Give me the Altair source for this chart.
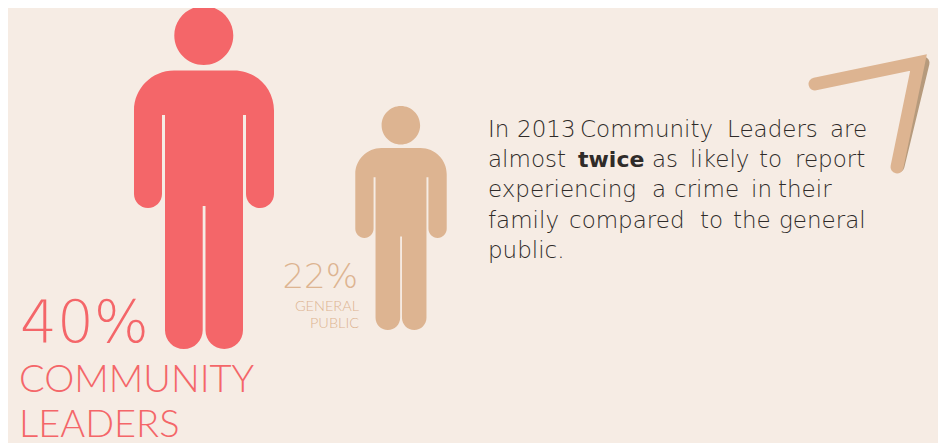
import altair as alt
import pandas as pd

groups = ["Community Leaders", "General Public"]
shares = [40, 22]
share_labels = ["40%", "22%"]
line1 = ["In", "2013", "Community", "Leaders", "are"]
line2a = ["almost"]
line2b = ["twice"]
line2c = ["as", "likely", "to", "report"]
line3 = ["experiencing", "a", "crime", "in", "their"]
line4 = ["family", "compared", "to", "the", "general"]
line5 = ["public."]

BG, RED, TAN, SHADOW, INK = "#F6ECE4", "#F46669", "#DDB491", "#B69A7C", "#2F2B29"
OX, OY = 8, 8
W, H = 930, 435
FONT = "Lato"
BODY = "DejaVu Sans"

CX, CY, U = 204.0, 177.5, 171.5
K = 0.5523
def p(x, y):
    return f"{(x - CX) / U:.4f},{(y - CY) / U:.4f}"
def circle(cx, cy, r):
    c = r * K
    return (f"M{p(cx + r, cy)}C{p(cx + r, cy + c)} {p(cx + c, cy + r)} {p(cx, cy + r)}"
            f"C{p(cx - c, cy + r)} {p(cx - r, cy + c)} {p(cx - r, cy)}"
            f"C{p(cx - r, cy - c)} {p(cx - c, cy - r)} {p(cx, cy - r)}"
            f"C{p(cx + c, cy - r)} {p(cx + r, cy - c)} {p(cx + r, cy)}Z")
def corner(x0, y0, x1, y1, horizontal_first):
    if horizontal_first:
        return f"C{p(x0 + (x1 - x0) * K, y0)} {p(x1, y1 - (y1 - y0) * K)} {p(x1, y1)}"
    return f"C{p(x0, y0 + (y1 - y0) * K)} {p(x1 - (x1 - x0) * K, y1)} {p(x1, y1)}"

L, R, TOP = 134.0, 274.0, 70.5
arm_in_l, arm_in_r = 162.0, 246.0
torso_l, torso_r = 165.0, 243.0
gap_l, gap_r = 202.7, 205.5
arm_top, arm_bot, leg_top, leg_bot = 115.0, 208.0, 206.0, 349.0
sh, ar = 40.0, 14.0
lr = (gap_l - torso_l) / 2
rr = (torso_r - gap_r) / 2
person = circle(203.8, 35.5, 29.5) + (
    f"M{p(L + sh, TOP)}L{p(R - sh, TOP)}"
    + corner(R - sh, TOP, R, TOP + sh, True)
    + f"L{p(R, arm_bot - ar)}"
    + corner(R, arm_bot - ar, R - ar, arm_bot, False)
    + corner(R - ar, arm_bot, arm_in_r, arm_bot - ar, True)
    + f"L{p(arm_in_r, arm_top)}L{p(torso_r, arm_top)}L{p(torso_r, leg_bot - rr)}"
    + corner(torso_r, leg_bot - rr, torso_r - rr, leg_bot, False)
    + corner(torso_r - rr, leg_bot, gap_r, leg_bot - rr, True)
    + f"L{p(gap_r, leg_top)}L{p(gap_l, leg_top)}L{p(gap_l, leg_bot - lr)}"
    + corner(gap_l, leg_bot - lr, gap_l - lr, leg_bot, False)
    + corner(gap_l - lr, leg_bot, torso_l, leg_bot - lr, True)
    + f"L{p(torso_l, arm_top)}L{p(arm_in_l, arm_top)}L{p(arm_in_l, arm_bot - ar)}"
    + corner(arm_in_l, arm_bot - ar, arm_in_l - ar, arm_bot, False)
    + corner(arm_in_l - ar, arm_bot, L, arm_bot - ar, True)
    + f"L{p(L, TOP + sh)}"
    + corner(L, TOP + sh, L + sh, TOP, False)
    + "Z"
)

people = pd.DataFrame({"group": groups, "share": shares})
figures = (
    alt.Chart(people)
    .mark_point(shape=person, filled=True, opacity=1, strokeWidth=0)
    .encode(
        x=alt.X("group:N", axis=None,
                scale=alt.Scale(type="point", domain=groups, range=[CX - OX, 401 - OX], padding=0)),
        y=alt.Y("group:N", axis=None,
                scale=alt.Scale(type="point", domain=groups, range=[CY - OY, 218 - OY], padding=0)),
        size=alt.Size("share:Q", legend=None,
                      scale=alt.Scale(domain=[22, 40], range=[224 ** 2, 343 ** 2])),
        color=alt.Color("group:N", legend=None, scale=alt.Scale(domain=groups, range=[RED, TAN])),
    )
)

SX, SY, SU = 870.0, 115.0, 60.0
def seven(*pts):
    return "M" + "L".join(f"{(x - SX) / SU:.4f},{(y - SY) / SU:.4f}" for x, y in pts)
def deco(path, colour):
    return (
        alt.Chart(pd.DataFrame({"k": ["seven"]}))
        .mark_point(shape=path, filled=False, opacity=1, stroke=colour, strokeWidth=13,
                    strokeCap="round", strokeJoin="miter", size=(2 * SU) ** 2)
        .encode(x=alt.value(SX - OX), y=alt.value(SY - OY))
    )
shadow = deco(seven((923, 63), (898, 166)), SHADOW)
main = deco(seven((815, 84), (918.5, 62.5), (897, 167)), TAN)

def label(text, x, y, size, colour, align="left", weight=300, font=FONT):
    return (
        alt.Chart(pd.DataFrame({"t": [text]}))
        .mark_text(font=font, fontSize=size, fontWeight=weight, color=colour, align=align,
                   baseline="alphabetic")
        .encode(text="t:N", x=alt.value(x - OX), y=alt.value(y - OY))
    )
def words(tokens, xs, y):
    return [label(t, x, y, 23, INK, font=BODY, weight=200) for t, x in zip(tokens, xs)]

texts = [
    label(share_labels[0], 20, 342, 58, RED, font=BODY, weight=200),
    label("COMMUNITY", 19, 392, 38, RED),
    label("LEADERS", 19, 437, 38, RED),
    label(share_labels[1], 358, 288, 34, TAN, "right", font=BODY, weight=200),
    label("GENERAL", 359, 311, 14.5, TAN, "right"),
    label("PUBLIC", 359, 328, 14.5, TAN, "right"),
    label(line2b[0], 578, 167, 22, INK, font=BODY, weight=700),
]
texts += words(line1, [488, 517, 580, 727, 830], 137)
texts += words(line2a, [488], 167)
texts += words(line2c, [652, 690, 759, 795], 167)
texts += words(line3, [488, 652, 674, 751, 778], 197)
texts += words(line4, [488, 569, 700, 733, 779], 228)
texts += words(line5, [488], 258)

chart = (
    alt.layer(shadow, main, figures, *texts)
    .resolve_scale(x="shared", y="shared")
    .properties(width=W, height=H, padding=0, background=BG,
                autosize=alt.AutoSizeParams(type="none"))
    .configure_view(strokeWidth=0)
)
chart.save("out.html", embed_options={"renderer": "svg", "actions": False})
